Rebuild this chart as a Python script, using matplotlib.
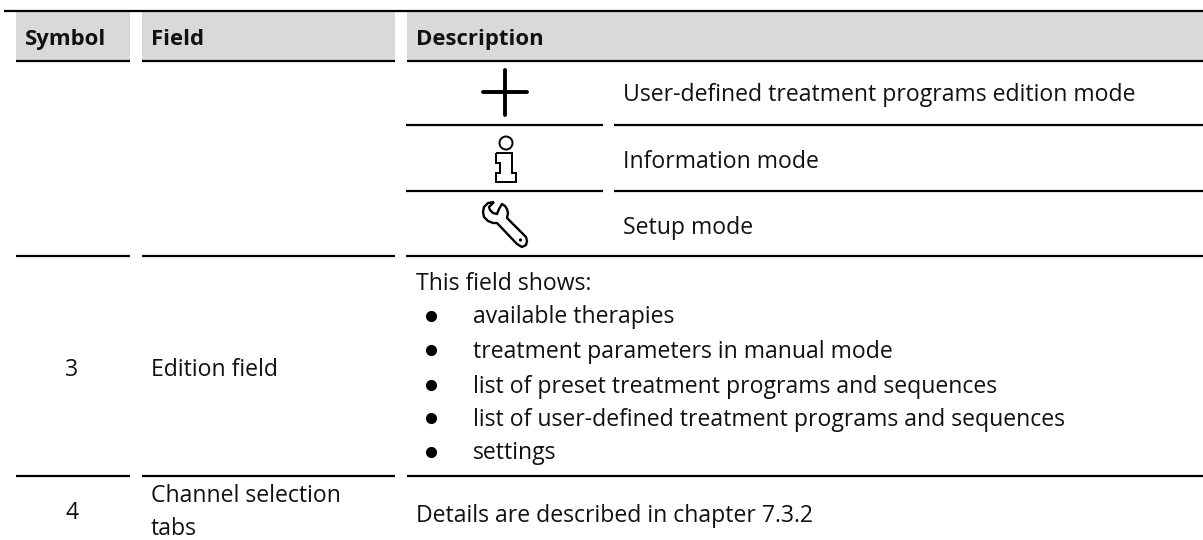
#!/usr/bin/env python3
import matplotlib
matplotlib.use('Agg')
import matplotlib.pyplot as plt
from matplotlib.patches import Circle, PathPatch, Rectangle
from matplotlib.path import Path

plt.rcParams['font.family'] = ['Open Sans', 'DejaVu Sans']

headers = ['Symbol', 'Field', 'Description']
mode_labels = ['User-defined treatment programs edition mode', 'Information mode', 'Setup mode']
row3 = ['3', 'Edition field']
row3_intro = 'This field shows:'
row3_items = ['available therapies',
              'treatment parameters in manual mode',
              'list of preset treatment programs and sequences',
              'list of user-defined treatment programs and sequences',
              'settings']
row4 = ['4', 'Channel selection', 'tabs', 'Details are described in chapter 7.3.2']

FS = 16.6
FS_BOLD = 15.9
INK = '#111111'


def rule(ax, x0, x1, y, lw=1.6):
    ax.plot([x0, x1], [y, y], color='black', lw=lw, solid_capstyle='butt')


def label(ax, x, y, s, **kw):
    # y is the baseline, so mixed ascenders and descenders line up
    ax.text(x, y, s, fontsize=FS, va='baseline', color=INK, **kw)


def draw_info_icon(ax):
    ax.add_patch(Circle((506, 143), 6.5, fc='white', ec='black', lw=1.4))
    pts = [(496, 153), (512, 153), (512, 173), (516, 173), (516, 182), (496, 182), (496, 173),
           (500, 173), (500, 163), (496, 163), (496, 153)]
    ax.add_patch(PathPatch(Path(pts), fc='white', ec='black', lw=1.4))


def draw_wrench_icon(ax):
    verts = [(494, 202), (488, 203), (484, 207), (483, 212), (484, 217), (488, 221), (493, 223),
             (497, 223), (517, 244), (522, 247), (526, 245), (527, 241), (526, 237), (507, 218),
             (508, 213), (507, 209), (505, 206), (502, 204), (499, 209), (497, 214), (493, 213),
             (490, 210), (489, 207), (494, 202)]
    ax.add_patch(PathPatch(Path(verts), fc='white', ec='black', lw=1.7, joinstyle='round'))
    ax.add_patch(Circle((520.5, 240), 1.6, fc='black', ec='none'))


fig = plt.figure(figsize=(12.03, 5.4), dpi=100)
ax = fig.add_axes([0, 0, 1, 1])
ax.set_xlim(0, 1203)
ax.set_ylim(540, 0)
ax.axis('off')

# header band
for x0, x1 in [(16, 130), (142, 395), (407, 1203)]:
    ax.add_patch(Rectangle((x0, 12), x1 - x0, 48, fc='#d9d9d9', ec='none'))
    rule(ax, x0, x1, 61)
rule(ax, 4, 1203, 11)
for x, head in zip([25, 151, 416], headers):
    ax.text(x, 45, head, fontsize=FS_BOLD, fontweight='bold', va='baseline', color=INK)

# mode rows
for y, mode in zip([101, 168, 234], mode_labels):
    label(ax, 623, y, mode)
for y in [125, 191]:
    rule(ax, 406, 603, y)
    rule(ax, 614, 1203, y)
rule(ax, 16, 130, 256)
rule(ax, 142, 395, 256)
rule(ax, 406, 1203, 256)

ax.plot([505, 505], [70, 115], color='black', lw=2.8, solid_capstyle='round')
ax.plot([483, 527], [92, 92], color='black', lw=2.8, solid_capstyle='round')
draw_info_icon(ax)
draw_wrench_icon(ax)

# edition field row
label(ax, 72, 376, row3[0], ha='center')
label(ax, 151, 376, row3[1])
label(ax, 416, 290, row3_intro)
for y, yb, item in zip([323, 358, 393, 426, 459], [316, 350, 385, 418, 452], row3_items):
    ax.plot([431], [yb], 'o', color='black', ms=7)
    label(ax, 473, y, item)

for x0, x1 in [(16, 130), (142, 395), (407, 1203)]:
    rule(ax, x0, x1, 476)

# channel row
label(ax, 72, 519, row4[0], ha='center')
label(ax, 151, 502, row4[1])
label(ax, 151, 535, row4[2])
label(ax, 416, 522, row4[3])

fig.savefig('out.png', dpi=100, facecolor='white')
